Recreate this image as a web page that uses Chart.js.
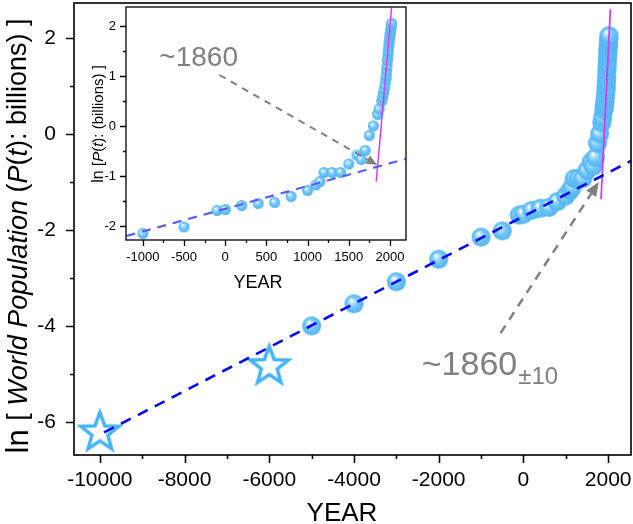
<!DOCTYPE html>
<html>
<head>
<meta charset="utf-8">
<script src="https://cdn.jsdelivr.net/npm/chart.js@4.4.1/dist/chart.umd.min.js"></script>
<style>
  html, body { margin: 0; padding: 0; background: #fff; }
  #wrap { position: relative; width: 633px; height: 524px; }
  #main { position: absolute; left: 0; top: 0; }
  #inset { position: absolute; left: 80px; top: 0; }
</style>
</head>
<body>
<div id="wrap">
  <canvas id="main" width="633" height="524"></canvas>
  <canvas id="inset" width="340" height="300"></canvas>
</div>
<script>
// ---------- data ----------
const starYears = [-10000, -6000];
const starLn = [-6.18, -4.8];

const years = [-5000, -4000, -3000, -2000, -1000, -500, -100, 1, 200, 400, 600, 800,
  1000, 1100, 1150, 1200, 1300, 1400, 1500, 1600, 1650, 1700, 1750, 1800, 1850,
  1870, 1900, 1910, 1920, 1930, 1940, 1950, 1955, 1960, 1965, 1970, 1975, 1980,
  1985, 1990, 1995, 2000, 2005, 2010, 2015, 2020];
const lnPop = [-4.0, -3.54, -3.08, -2.61, -2.15, -2.02, -1.69, -1.67, -1.59, -1.55, -1.53, -1.41,
  -1.29, -1.18, -1.11, -0.93, -0.93, -0.93, -0.76, -0.58, -0.67, -0.49, -0.19, 0.0, 0.23,
  0.34, 0.5, 0.57, 0.65, 0.73, 0.82, 0.92, 1.0, 1.1, 1.2, 1.31, 1.4, 1.49,
  1.58, 1.67, 1.74, 1.81, 1.87, 1.93, 1.99, 2.05];

// fitted lines
const fitMainX = [-9900, 2540];
const fitMainY = [-6.22, -0.56];
const fitInsetX = [-1200, 2190];
const fitInsetY = [-2.2, -0.66];
const steepMainX = [1833, 2053];
const steepMainY = [-1.36, 2.6];
const steepInsetX = [1834, 2020];
const steepInsetY = [-1.11, 2.37];

// tick labels
const xTicksMain = [-10000, -8000, -6000, -4000, -2000, 0, 2000];
const yTicksMain = [-6, -4, -2, 0, 2];
const xTicksInset = [-1000, -500, 0, 500, 1000, 1500, 2000];
const yTicksInset = [-2, -1, 0, 1, 2];

// annotation arrows [x0, y0, x1, y1] in data units
const arrowMain = [-540, -4.15, 1780, -1.0];
const arrowInset = [-70, 1.02, 1846, -0.78];

const FONT = '"Liberation Sans", Arial, sans-serif';
const GRAY = '#808080';

function pts(xs, ys) { return xs.map((x, i) => ({ x: x, y: ys[i] })); }

// glossy ball used as point style
function makeBall(r) {
  const s = Math.ceil(r * 2 + 2);
  const c = document.createElement('canvas');
  c.width = c.height = s;
  const g = c.getContext('2d');
  const cx = s / 2, cy = s / 2;
  const grad = g.createRadialGradient(cx - r * 0.3, cy - r * 0.38, r * 0.05, cx, cy, r);
  grad.addColorStop(0, '#ffffff');
  grad.addColorStop(0.22, '#b4e2fe');
  grad.addColorStop(0.55, '#72c6f8');
  grad.addColorStop(1, '#4fb3f1');
  g.fillStyle = grad;
  g.beginPath();
  g.arc(cx, cy, r, 0, Math.PI * 2);
  g.fill();
  return c;
}

function makeStar(R) {
  const s = Math.ceil(R * 2 + 8);
  const c = document.createElement('canvas');
  c.width = c.height = s;
  const g = c.getContext('2d');
  const cx = s / 2, cy = s / 2 + R * 0.1;
  const rIn = R * 0.42;
  g.beginPath();
  for (let i = 0; i < 10; i++) {
    const rad = i % 2 === 0 ? R : rIn;
    const a = -Math.PI / 2 + i * Math.PI / 5;
    const px = cx + rad * Math.cos(a), py = cy + rad * Math.sin(a);
    if (i === 0) g.moveTo(px, py); else g.lineTo(px, py);
  }
  g.closePath();
  g.lineJoin = 'miter';
  g.lineWidth = 3.5;
  g.strokeStyle = '#45b4f5';
  g.stroke();
  return c;
}

// text made of parts with different fonts, centred at (x, y)
function drawRich(ctx, parts, x, y, angle) {
  ctx.save();
  ctx.translate(x, y);
  ctx.rotate(angle);
  let total = 0;
  parts.forEach(p => { ctx.font = p.f; p.w = ctx.measureText(p.t).width; total += p.w; });
  let cur = -total / 2;
  ctx.textBaseline = 'middle';
  ctx.textAlign = 'left';
  ctx.fillStyle = '#000';
  parts.forEach(p => { ctx.font = p.f; ctx.fillText(p.t, cur, 0); cur += p.w; });
  ctx.restore();
}

function drawArrow(ctx, x0, y0, x1, y1, head, width, dash) {
  const ang = Math.atan2(y1 - y0, x1 - x0);
  const bx = x1 - head * Math.cos(ang), by = y1 - head * Math.sin(ang);
  ctx.save();
  ctx.strokeStyle = GRAY;
  ctx.fillStyle = GRAY;
  ctx.lineWidth = width;
  ctx.setLineDash(dash);
  ctx.beginPath();
  ctx.moveTo(x0, y0);
  ctx.lineTo(bx, by);
  ctx.stroke();
  ctx.setLineDash([]);
  const hw = head * 0.42;
  ctx.beginPath();
  ctx.moveTo(x1, y1);
  ctx.lineTo(bx + hw * Math.sin(ang), by - hw * Math.cos(ang));
  ctx.lineTo(bx - hw * Math.sin(ang), by + hw * Math.cos(ang));
  ctx.closePath();
  ctx.fill();
  ctx.restore();
}

// frame + outward major/minor ticks
function frameTicks(opts) {
  return {
    id: 'frameTicks',
    beforeDatasetsDraw(chart) {
      const a = chart.chartArea, ctx = chart.ctx;
      ctx.save();
      ctx.fillStyle = '#fff';
      ctx.fillRect(a.left, a.top, a.right - a.left, a.bottom - a.top);
      ctx.restore();
    },
    afterDraw(chart) {
      const { ctx, chartArea: a, scales } = chart;
      const sx = scales.x, sy = scales.y;
      ctx.save();
      ctx.strokeStyle = '#000';
      ctx.lineWidth = opts.lw;
      ctx.strokeRect(a.left, a.top, a.right - a.left, a.bottom - a.top);
      ctx.beginPath();
      for (let v = Math.ceil(sx.min / opts.minX) * opts.minX; v <= sx.max; v += opts.minX) {
        const p = Math.round(sx.getPixelForValue(v)) + 0.5;
        const len = opts.majX.includes(v) ? opts.major : opts.minor;
        ctx.moveTo(p, a.bottom);
        ctx.lineTo(p, a.bottom + len);
      }
      for (let v = Math.ceil(sy.min / opts.minY) * opts.minY; v <= sy.max; v += opts.minY) {
        const p = Math.round(sy.getPixelForValue(v)) + 0.5;
        const len = opts.majY.includes(v) ? opts.major : opts.minor;
        ctx.moveTo(a.left, p);
        ctx.lineTo(a.left - len, p);
      }
      ctx.stroke();
      ctx.restore();
    }
  };
}

// keep the plot box exactly where the padding puts it
function fitX(h) {
  return s => { s.height = h; s.paddingLeft = 0; s.paddingRight = 0; s.paddingTop = 0; s.paddingBottom = 0; };
}
function fitY(w) {
  return s => { s.width = w; s.paddingLeft = 0; s.paddingRight = 0; s.paddingTop = 0; s.paddingBottom = 0; };
}

const ball9 = makeBall(9.5);
const ball5 = makeBall(5.5);
const star = makeStar(20);

// ---------------- main chart ----------------
const mainAnno = {
  id: 'mainAnno',
  afterDraw(chart) {
    const { ctx, scales } = chart;
    const sx = scales.x, sy = scales.y;
    drawArrow(ctx, sx.getPixelForValue(arrowMain[0]), sy.getPixelForValue(arrowMain[1]),
      sx.getPixelForValue(arrowMain[2]), sy.getPixelForValue(arrowMain[3]), 14, 2.5, [9, 7]);
    ctx.save();
    ctx.fillStyle = GRAY;
    ctx.textBaseline = 'alphabetic';
    ctx.font = '34px ' + FONT;
    const tx = sx.getPixelForValue(-2400), ty = sy.getPixelForValue(-5.02);
    ctx.fillText('~1860', tx, ty);
    const w = ctx.measureText('~1860').width;
    ctx.font = '24px ' + FONT;
    ctx.fillText('\u00b110', tx + w + 1, ty + 9);
    ctx.restore();
    ctx.save();
    ctx.fillStyle = '#000';
    ctx.font = '26px ' + FONT;
    ctx.textAlign = 'center';
    ctx.textBaseline = 'alphabetic';
    ctx.fillText('YEAR', 342, 521);
    ctx.restore();
    drawRich(ctx, [
      { t: 'ln ', f: '31px ' + FONT },
      { t: '[ ', f: '27px ' + FONT },
      { t: 'World Population', f: 'italic 27px ' + FONT },
      { t: ' (', f: '27px ' + FONT },
      { t: 'P', f: 'italic 27px ' + FONT },
      { t: '(', f: '27px ' + FONT },
      { t: 't', f: 'italic 27px ' + FONT },
      { t: '): billions) ]', f: '27px ' + FONT }
    ], 19, 236, -Math.PI / 2);
  }
};

new Chart(document.getElementById('main'), {
  type: 'scatter',
  data: {
    datasets: [
      { type: 'line', data: pts(fitMainX, fitMainY), borderColor: '#0a0aee', borderWidth: 2.6,
        borderDash: [11, 8], pointRadius: 0, fill: false },
      { type: 'line', data: pts(steepMainX, steepMainY), borderColor: '#d63cf0', borderWidth: 1.8,
        pointRadius: 0, fill: false },
      { data: pts(years, lnPop), pointStyle: ball9, pointRadius: 9.5 },
      { data: pts(starYears, starLn), pointStyle: star, pointRadius: 20 }
    ]
  },
  options: {
    responsive: false,
    animation: false,
    layout: { autoPadding: false, padding: { top: 3, right: 2, left: 0, bottom: 0 } },
    plugins: { legend: { display: false }, tooltip: { enabled: false } },
    scales: {
      x: {
        type: 'linear', min: -10610, max: 2540,
        grid: { display: false, drawTicks: false }, border: { display: false },
        afterBuildTicks: s => { s.ticks = xTicksMain.map(v => ({ value: v })); },
        afterFit: fitX(69),
        ticks: { color: '#000', font: { family: FONT, size: 21 }, padding: 13, maxRotation: 0,
          callback: v => String(v) }
      },
      y: {
        type: 'linear', min: -6.69, max: 2.73,
        grid: { display: false, drawTicks: false }, border: { display: false },
        afterBuildTicks: s => { s.ticks = yTicksMain.map(v => ({ value: v })); },
        afterFit: fitY(74),
        ticks: { color: '#000', font: { family: FONT, size: 21 }, padding: 18,
          callback: v => String(v) }
      }
    }
  },
  plugins: [frameTicks({ lw: 1.6, major: 8, minor: 4, minX: 1000, minY: 1,
    majX: xTicksMain, majY: yTicksMain }), mainAnno]
});

// ---------------- inset chart ----------------
const insetAnno = {
  id: 'insetAnno',
  afterDraw(chart) {
    const { ctx, scales } = chart;
    const sx = scales.x, sy = scales.y;
    drawArrow(ctx, sx.getPixelForValue(arrowInset[0]), sy.getPixelForValue(arrowInset[1]),
      sx.getPixelForValue(arrowInset[2]), sy.getPixelForValue(arrowInset[3]), 11, 2, [7, 6]);
    ctx.save();
    ctx.fillStyle = GRAY;
    ctx.font = '28px ' + FONT;
    ctx.textBaseline = 'alphabetic';
    ctx.fillText('~1860', sx.getPixelForValue(-800), sy.getPixelForValue(1.2));
    ctx.fillStyle = '#000';
    ctx.font = '18px ' + FONT;
    ctx.textAlign = 'center';
    ctx.fillText('YEAR', 178, 288);
    ctx.restore();
    drawRich(ctx, [
      { t: 'ln ', f: '16px ' + FONT },
      { t: '[', f: '15px ' + FONT },
      { t: 'P', f: 'italic 15px ' + FONT },
      { t: '(', f: '15px ' + FONT },
      { t: 't', f: 'italic 15px ' + FONT },
      { t: '): (billions) ]', f: '15px ' + FONT }
    ], 19, 124, -Math.PI / 2);
  }
};

new Chart(document.getElementById('inset'), {
  type: 'scatter',
  data: {
    datasets: [
      { type: 'line', data: pts(fitInsetX, fitInsetY), borderColor: '#5a5af6', borderWidth: 2.2,
        borderDash: [9, 7], pointRadius: 0, fill: false },
      { type: 'line', data: pts(steepInsetX, steepInsetY), borderColor: '#d63cf0', borderWidth: 1.5,
        pointRadius: 0, fill: false },
      { data: pts(years, lnPop), pointStyle: ball5, pointRadius: 5.5 }
    ]
  },
  options: {
    responsive: false,
    animation: false,
    layout: { autoPadding: false, padding: { top: 7, right: 14, left: 0, bottom: 0 } },
    plugins: { legend: { display: false }, tooltip: { enabled: false } },
    scales: {
      x: {
        type: 'linear', min: -1205, max: 2195,
        grid: { display: false, drawTicks: false }, border: { display: false },
        afterBuildTicks: s => { s.ticks = xTicksInset.map(v => ({ value: v })); },
        afterFit: fitX(60),
        ticks: { color: '#000', font: { family: FONT, size: 13 }, padding: 10, maxRotation: 0,
          callback: v => String(v) }
      },
      y: {
        type: 'linear', min: -2.28, max: 2.38,
        grid: { display: false, drawTicks: false }, border: { display: false },
        afterBuildTicks: s => { s.ticks = yTicksInset.map(v => ({ value: v })); },
        afterFit: fitY(46),
        ticks: { color: '#000', font: { family: FONT, size: 13 }, padding: 10,
          callback: v => String(v) }
      }
    }
  },
  plugins: [frameTicks({ lw: 1.3, major: 6, minor: 3, minX: 250, minY: 0.5,
    majX: xTicksInset, majY: yTicksInset }), insetAnno]
});
</script>
</body>
</html>
